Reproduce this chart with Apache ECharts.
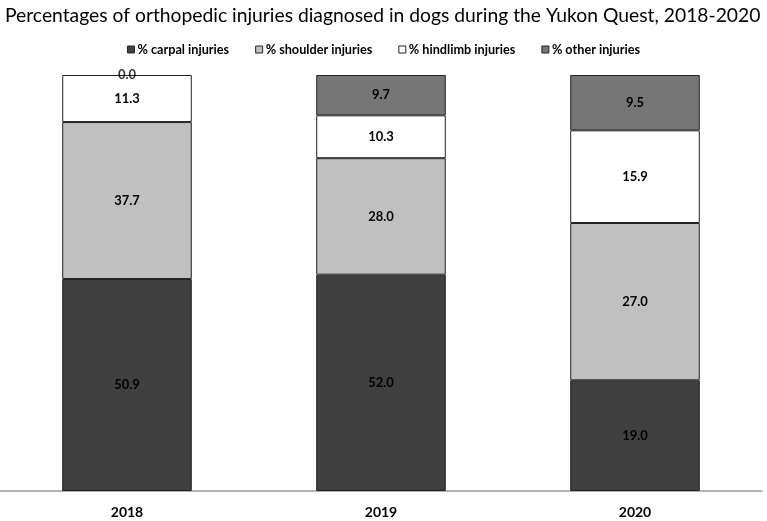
<!DOCTYPE html>
<html><head><meta charset="utf-8">
<script src="https://cdn.jsdelivr.net/npm/echarts@6/dist/echarts.min.js"></script>
<style>html,body{margin:0;padding:0;background:#fff}#c{width:767px;height:521px}</style>
</head><body><div id="c"></div>
<script>
var years = ['2018', '2019', '2020'];
var seriesNames = ['% carpal injuries', '% shoulder injuries', '% hindlimb injuries', '% other injuries'];
var carpal = [50.9, 52.0, 19.0];
var shoulder = [37.7, 28.0, 27.0];
var hindlimb = [11.3, 10.3, 15.9];
var other = [0.0, 9.7, 9.5];
var colors = ['#404040', '#c0c0c0', '#ffffff', '#767676'];

var raw = [carpal, shoulder, hindlimb, other];
var totals = years.map(function (_, i) { return raw.reduce(function (s, a) { return s + a[i]; }, 0); });
var FONT = 'Lato, "Open Sans", sans-serif';
var labelStyle = { color: '#000', fontWeight: 'bold', fontSize: 13, fontFamily: FONT };

var series = raw.map(function (arr, k) {
  return {
    name: seriesNames[k], type: 'bar', stack: 'total', stackStrategy: 'all', barWidth: '51%',
    itemStyle: { color: colors[k], borderColor: '#222', borderWidth: 1 },
    label: Object.assign({ show: true, position: 'inside',
      formatter: function (p) { return arr[p.dataIndex].toFixed(1); } }, labelStyle),
    data: arr.map(function (v, i) { return v / totals[i] * 100; })
  };
});

// labels for zero-height segments, placed at their stack position
var zeroPts = [];
raw.forEach(function (arr, k) {
  arr.forEach(function (v, i) {
    if (v === 0) {
      var base = 0;
      for (var j = 0; j < k; j++) base += raw[j][i] / totals[i] * 100;
      zeroPts.push([i, base, v]);
    }
  });
});
series.push({
  type: 'scatter', symbolSize: 0, silent: true, z: 5,
  label: Object.assign({ show: true, position: 'inside',
    formatter: function (p) { return p.value[2].toFixed(1); } }, labelStyle),
  data: zeroPts
});

var chart = echarts.init(document.getElementById('c'));
chart.setOption({
  animation: false,
  title: { text: 'Percentages of orthopedic injuries diagnosed in dogs during the Yukon Quest, 2018-2020', left: 0, top: 1,
    textStyle: { fontFamily: FONT, fontWeight: 'normal', fontSize: 19.3, color: '#000' } },
  legend: { top: 38, left: 'center', icon: 'rect', itemWidth: 7, itemHeight: 7, itemGap: 26,
    textStyle: { fontFamily: FONT, fontWeight: 'bold', fontSize: 12.7, color: '#000', padding: [0, 0, 0, -2] },
    itemStyle: { borderColor: '#222', borderWidth: 1 },
    data: seriesNames },
  grid: { left: 0, right: 5, top: 75, bottom: 30, containLabel: false },
  xAxis: { type: 'category', data: years,
    axisLine: { lineStyle: { color: '#999', width: 1.5 } }, axisTick: { show: false },
    axisLabel: { margin: 14, fontFamily: FONT, fontWeight: 'bold', fontSize: 14, color: '#000' } },
  yAxis: { type: 'value', min: 0, max: 100, show: false, splitLine: { show: false } },
  series: series
});
</script></body></html>
